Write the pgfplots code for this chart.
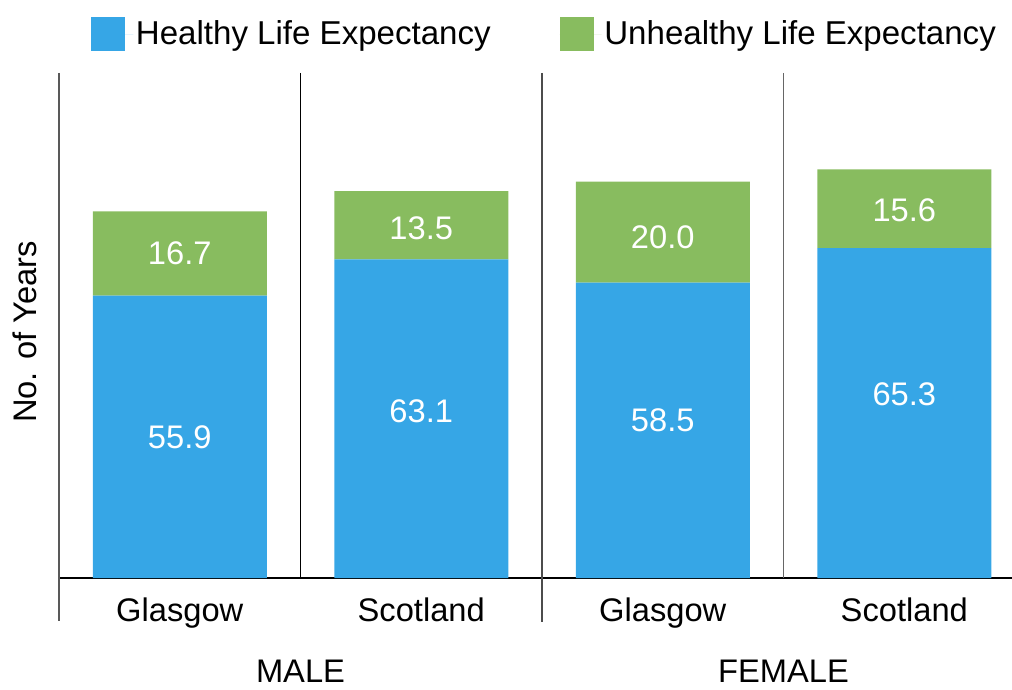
\documentclass[border=0pt]{standalone}
\usepackage{pgfplots}
\usepackage{pgfplotstable}
\pgfplotsset{compat=1.18}
\usepackage{fontspec}
\setmainfont{Liberation Sans}
\definecolor{hblue}{RGB}{54,166,230}
\definecolor{hgreen}{RGB}{136,188,95}
% h, u: values; db, du: label offsets (pt)
\pgfplotstableread{
x h u db du
0 55.9 16.7 0 0.4
1 63.1 13.5 5.8 -2.25
2 58.5 20.0 7.7 -3.7
3 65.3 15.6 14.3 -1.3
}\data
\newcommand{\bigf}{\fontsize{24.5}{29}\selectfont}
\begin{document}
\begin{tikzpicture}
\path[use as bounding box] (-44.25pt,-83.25pt) rectangle (714.75pt,433.5pt);
\begin{axis}[
 at={(0pt,0pt)}, anchor=south west,
 scale only axis, width=714.75pt, height=378.75pt,
 xmin=-0.5, xmax=3.446, ymin=0, ymax=100,
 clip=false,
 ybar stacked, bar width=0.7205,
 axis line style={draw=none},
 ytick=\empty,
 xtick={0,1,2,3},
 xticklabels={Glasgow,Scotland,Glasgow,Scotland},
 major tick length=0pt,
 tick label style={font=\bigf},
 xticklabel style={anchor=base, yshift=-32.25pt},
 extra x ticks={0.5,2.5},
 extra x tick labels={MALE,FEMALE},
 extra x tick style={xticklabel style={yshift=-46pt}},
 ylabel={No. of Years},
 every axis y label/.style={at={(axis description cs:-0.0357,0.487)}, rotate=90, anchor=center, font=\bigf},
 legend columns=2,
 legend style={draw=none, fill=none, at={(axis description cs:0.0294,1.0772)}, anchor=west, font=\fontsize{24.8}{29}\selectfont, /tikz/every even column/.append style={column sep=49.75pt}},
 legend cell align=left,
 nodes near coords,
 every node near coord/.append style={anchor=center, text=white, font=\bigf},
 nodes near coords style={/pgf/number format/fixed, /pgf/number format/fixed zerofill, /pgf/number format/precision=1, /pgf/number format/assume math mode=true},
]
\addplot[fill=hblue, draw=none,
  visualization depends on={\thisrow{db} \as \dd},
  every node near coord/.append style={yshift=\dd pt},
  legend image code/.code={\fill[hblue] (0pt,-12.75pt) rectangle (25.5pt,12.75pt); \path (0pt,0pt) -- (31.5pt,0pt);}]
  table[x=x, y=h, meta=h] {\data};
\addlegendentry{Healthy Life Expectancy}
\addplot[fill=hgreen, draw=none,
  visualization depends on={\thisrow{du} \as \dd},
  every node near coord/.append style={yshift=\dd pt},
  legend image code/.code={\fill[hgreen] (0pt,-12.75pt) rectangle (25.5pt,12.75pt); \path (0pt,0pt) -- (31.5pt,0pt);}]
  table[x=x, y=u, meta=u] {\data};
\addlegendentry{Unhealthy Life Expectancy}
\draw[black!65, line width=0.8pt] (axis cs:-0.5,100) -- ([yshift=-32.25pt]axis cs:-0.5,0);
\draw[black, line width=0.9pt] (axis cs:0.5,100) -- (axis cs:0.5,0);
\draw[black!70, line width=0.9pt] (axis cs:1.5,100) -- ([yshift=-33pt]axis cs:1.5,0);
\draw[black!60, line width=0.9pt] (axis cs:2.5,100) -- (axis cs:2.5,0);
\draw[black, line width=1pt] (axis cs:-0.5,0) -- (axis cs:3.446,0);
\end{axis}
\end{tikzpicture}
\end{document}
